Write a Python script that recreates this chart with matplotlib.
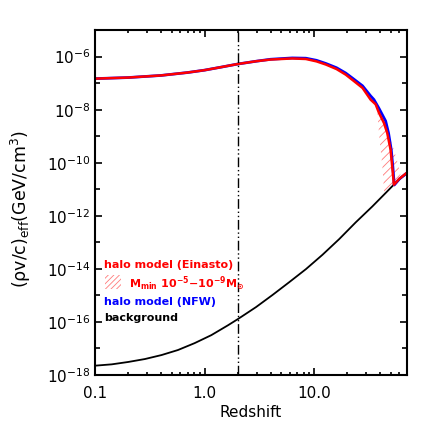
import numpy as np
import matplotlib
matplotlib.use('Agg')
import matplotlib.pyplot as plt
from matplotlib.ticker import FixedLocator, NullFormatter
from matplotlib.patches import Rectangle

plt.rcParams['mathtext.default'] = 'regular'
plt.rcParams['hatch.linewidth'] = 0.6

# redshift / log10 of (rho v / c)_eff
einasto_z = [0.1, 0.2, 0.4, 0.7, 1.0, 1.4, 2.0, 3.0, 4.0, 6.3, 8.4, 10.5, 12.8, 16, 19.4,
             23, 27.6, 32.7, 36.4, 39, 43.3, 46.4, 49.8, 51.5, 53.4, 60, 70]
einasto_lg = [-6.83, -6.79, -6.71, -6.60, -6.51, -6.40, -6.28, -6.17, -6.11, -6.07, -6.09,
              -6.18, -6.30, -6.47, -6.68, -6.92, -7.18, -7.62, -7.80, -8.12, -8.50, -8.88,
              -9.51, -10.14, -10.83, -10.60, -10.38]

nfw_z = [0.1, 0.2, 0.4, 0.7, 1.0, 1.4, 2.0, 3.0, 4.0, 6.3, 8.4, 10.5, 12.8, 16, 19.4,
         23, 27.6, 32.7, 35.1, 39, 44.9, 47.7, 50.5, 52.2, 53.8, 60, 70]
nfw_lg = [-6.83, -6.79, -6.71, -6.60, -6.51, -6.40, -6.28, -6.17, -6.10, -6.05, -6.06,
          -6.14, -6.26, -6.42, -6.62, -6.85, -7.10, -7.48, -7.62, -7.95, -8.43, -8.88,
          -9.51, -10.14, -10.84, -10.61, -10.39]

bg_z = [0.1, 0.142, 0.201, 0.285, 0.404, 0.571, 0.811, 1.15, 1.63, 2.0, 2.31, 2.95, 4.18,
        5.93, 8.41, 11.9, 16.9, 23.9, 33.9, 44.9, 52.3, 60, 70]
bg_lg = [-17.65, -17.60, -17.51, -17.40, -17.25, -17.06, -16.80, -16.50, -16.13, -15.90,
         -15.73, -15.44, -14.98, -14.50, -14.01, -13.47, -12.88, -12.25, -11.65, -11.14,
         -10.86, -10.62, -10.40]

# M_min 1e-5 .. 1e-9 Msun band
band_z = [37.6, 39.0, 40.4, 41.9, 43.5, 52.3, 61.2, 57.8, 53.4, 47.3, 43.3, 39.0]
band_lg = [-7.98, -8.88, -9.51, -10.14, -11.10, -10.86, -10.45, -10.0, -9.51, -8.88, -8.50, -8.12]

z_reion = 2.0

fig = plt.figure(figsize=(4.36, 4.36), dpi=100)
ax = fig.add_axes([0.218, 0.140, 0.715, 0.791])

ax.fill(band_z, 10.0 ** np.array(band_lg), facecolor='none', edgecolor='#ff7a7a',
        hatch='////', linewidth=0)
ax.plot(bg_z, 10.0 ** np.array(bg_lg), color='black', lw=1.3)
ax.plot(nfw_z, 10.0 ** np.array(nfw_lg), color='blue', lw=2.0)
ax.plot(einasto_z, 10.0 ** np.array(einasto_lg), color='red', lw=1.8)
ax.axvline(z_reion, color='black', lw=1.0, linestyle=(0, (7, 2, 1, 2, 1, 2)))

ax.set_xscale('log')
ax.set_yscale('log')
ax.set_xlim(0.1, 70)
ax.set_ylim(1e-18, 1e-5)

ax.set_xticks([0.1, 1.0, 10.0])
ax.set_xticklabels(['0.1', '1.0', '10.0'])
ax.xaxis.set_minor_locator(FixedLocator([m * 10.0 ** e for e in (-1, 0, 1) for m in range(2, 10)]))
ax.xaxis.set_minor_formatter(NullFormatter())
ax.yaxis.set_major_locator(FixedLocator([10.0 ** e for e in range(-18, -5, 2)]))
ax.set_yticklabels(['$10^{%d}$' % e for e in range(-18, -5, 2)])
ax.yaxis.set_minor_locator(FixedLocator([10.0 ** e for e in range(-17, -4, 2)]))
ax.yaxis.set_minor_formatter(NullFormatter())

ax.tick_params(which='both', direction='in', top=True, right=True, labelsize=11, width=1.2)
ax.tick_params(which='major', length=5)
ax.tick_params(which='minor', length=2.5)
ax.tick_params(axis='y', which='minor', length=3.5)
ax.tick_params(axis='x', which='major', pad=8)
for s in ax.spines.values():
    s.set_linewidth(1.5)

ax.set_xlabel('Redshift', fontsize=11, labelpad=3)
ax.set_ylabel(r'$(\rho v/c)_{eff}$(GeV/cm$^3$)', fontsize=12.5)
ax.yaxis.set_label_coords(-0.199, 0.481)

# legend drawn as plain texts like the original
ax.text(0.03, 0.320, 'halo model (Einasto)', color='red', fontsize=8, fontweight='bold',
        transform=ax.transAxes, va='center')
ax.add_patch(Rectangle((0.032, 0.249), 0.05, 0.04, transform=ax.transAxes,
                       facecolor='none', edgecolor='#ff7a7a', hatch='//////', lw=0))
ax.text(0.11, 0.266, r'M$_{min}$ 10$^{-5}$$-$10$^{-9}$M$_{\odot}$', color='red', fontsize=8,
        fontweight='bold', transform=ax.transAxes, va='center')
ax.text(0.03, 0.212, 'halo model (NFW)', color='blue', fontsize=8, fontweight='bold',
        transform=ax.transAxes, va='center')
ax.text(0.03, 0.165, 'background', color='black', fontsize=8, fontweight='bold',
        transform=ax.transAxes, va='center')

fig.savefig('out.png', dpi=100)
